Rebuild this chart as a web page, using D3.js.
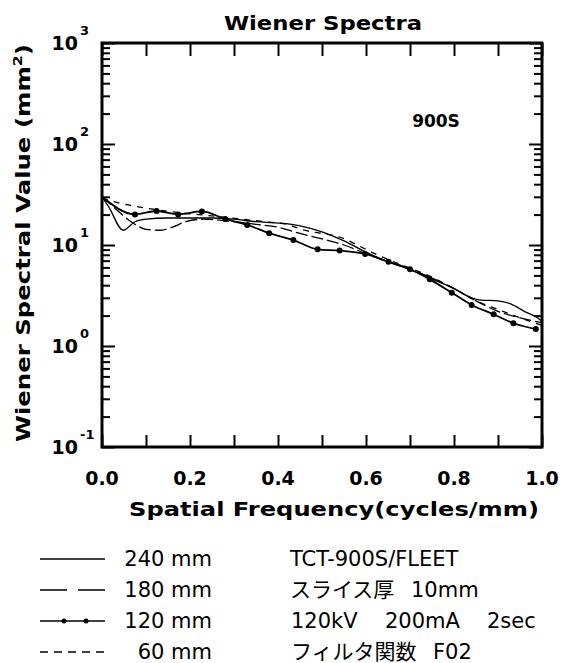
<!DOCTYPE html>
<html><head><meta charset="utf-8">
<script src="https://cdn.jsdelivr.net/npm/d3@7"></script>
<style>
html,body{margin:0;padding:0;background:#fff;}
svg{display:block;}
</style></head>
<body>
<script>
// ---- data ----
const xTicks = [0,0.1,0.2,0.3,0.4,0.5,0.6,0.7,0.8,0.9,1.0];
const xTickLabels = [0,0.2,0.4,0.6,0.8,1.0];
const yDecades = [0.1,1,10,100,1000];
const yDecadeExp = ["-1","0","1","2","3"];

const freq240 = [0,0.015,0.048,0.075,0.1,0.15,0.2,0.25,0.3,0.35,0.4,0.45,0.5,0.55,0.6,0.65,0.7,0.75,0.8,0.84,0.86,0.9,0.93,0.96,0.99,1.0];
const val240  = [30,24,14,17,18,18.5,18.5,18.5,18,17,16.5,15.5,13.5,11,8.5,6.8,5.7,4.6,3.7,3.0,2.85,2.8,2.6,2.2,1.9,1.75];

const freq180 = [0,0.03,0.07,0.1,0.13,0.16,0.19,0.23,0.3,0.35,0.4,0.45,0.5,0.55,0.6,0.65,0.7,0.75,0.8,0.85,0.9,0.95,1.0];
const val180  = [30,23,16.5,14.3,14.0,15.0,17.0,18.0,17.0,16.0,15.0,13.0,11.5,10.0,8.2,6.8,5.8,4.7,3.7,2.8,2.2,1.9,1.7];

const freq120 = [0,0.075,0.124,0.173,0.227,0.28,0.33,0.38,0.435,0.49,0.54,0.598,0.651,0.70,0.745,0.795,0.84,0.89,0.935,0.986];
const val120  = [30,20.1,21.7,20.1,21.5,18.1,15.8,13.1,11.2,9.06,8.8,8.15,6.84,5.75,4.57,3.37,2.55,2.06,1.68,1.47];

const freq60 = [0,0.04,0.08,0.12,0.17,0.22,0.27,0.32,0.37,0.42,0.46,0.5,0.54,0.58,0.62,0.66,0.7,0.75,0.8,0.85,0.9,0.95,1.0];
const val60  = [29,26,24,22.5,21,20,19,18,17,16,14,13,12,10,8.2,6.9,5.9,4.8,3.7,2.8,2.3,1.9,1.6];

const legendLabels = ["240 mm","180 mm","120 mm","60 mm"];
const infoParts = [
  ["TCT-900S/FLEET"],
  ["スライス厚","10mm"],
  ["120kV","200mA","2sec"],
  ["フィルタ関数","F02"]
];

// ---- chart ----
const W = 571, H = 663;
const L = 102, R = 542, T = 43, B = 447;
const svg = d3.select("body").append("svg").attr("width",W).attr("height",H);

const x = d3.scaleLinear().domain([0,1]).range([L,R]);
const y = d3.scaleLog().domain([0.1,1000]).range([B,T]);

const boldFont = "'DejaVu Sans', sans-serif";

const minorVals = [];
yDecades.slice(0,-1).forEach(d => { for (let k=2;k<=9;k++) minorVals.push(d*k); });

function styleAxis(g){
  g.select(".domain").remove();
  g.selectAll(".tick line").attr("stroke","#000").attr("stroke-width",2);
  g.selectAll(".tick text").remove();
}
svg.append("g").attr("transform",`translate(0,${B})`)
  .call(d3.axisBottom(x).tickValues(xTicks).tickSize(-12)).call(styleAxis);
svg.append("g").attr("transform",`translate(0,${T})`)
  .call(d3.axisTop(x).tickValues(xTicks).tickSize(-13)).call(styleAxis);
svg.append("g").attr("transform",`translate(${L},0)`)
  .call(d3.axisLeft(y).tickValues(yDecades).tickSize(-13)).call(styleAxis);
svg.append("g").attr("transform",`translate(${L},0)`)
  .call(d3.axisLeft(y).tickValues(minorVals).tickSize(-8)).call(styleAxis);
svg.append("g").attr("transform",`translate(${R},0)`)
  .call(d3.axisRight(y).tickValues(yDecades).tickSize(-13)).call(styleAxis);
svg.append("g").attr("transform",`translate(${R},0)`)
  .call(d3.axisRight(y).tickValues(minorVals).tickSize(-8)).call(styleAxis);

svg.append("rect").attr("x",L).attr("y",T).attr("width",R-L).attr("height",B-T)
  .attr("fill","none").attr("stroke","#000").attr("stroke-width",3);

// x tick labels
svg.append("g").selectAll("text").data(xTickLabels).join("text")
  .attr("x",d=>x(d)).attr("y",B+38)
  .attr("text-anchor","middle").attr("font-family",boldFont).attr("font-weight","bold")
  .attr("font-size",19).text(d=>d3.format(".1f")(d));

// y tick labels
const yl = svg.append("g");
yDecades.forEach((d,i)=>{
  yl.append("text").attr("x",78).attr("y",y(d)+7).attr("text-anchor","end")
    .attr("font-family",boldFont).attr("font-weight","bold").attr("font-size",19).text("10");
  yl.append("text").attr("x",80).attr("y",y(d)-8).attr("text-anchor","start")
    .attr("font-family",boldFont).attr("font-weight","bold").attr("font-size",13).text(yDecadeExp[i]);
});

// titles
svg.append("text").attr("x",323).attr("y",30).attr("text-anchor","middle")
  .attr("font-family",boldFont).attr("font-weight","bold").attr("font-size",20)
  .attr("textLength",198).attr("lengthAdjust","spacingAndGlyphs").text("Wiener Spectra");
svg.append("text").attr("x",334).attr("y",516).attr("text-anchor","middle")
  .attr("font-family",boldFont).attr("font-weight","bold").attr("font-size",20)
  .attr("textLength",410).attr("lengthAdjust","spacingAndGlyphs").text("Spatial Frequency(cycles/mm)");
const yt = svg.append("text").attr("transform","translate(30,243) rotate(-90)").attr("text-anchor","middle")
  .attr("font-family",boldFont).attr("font-weight","bold").attr("font-size",20)
  .attr("textLength",398).attr("lengthAdjust","spacingAndGlyphs");
yt.append("tspan").text("Wiener Spectral Value (mm");
yt.append("tspan").attr("font-size",13).attr("dy",-8).text("2");
yt.append("tspan").attr("dy",8).text(")");

svg.append("text").attr("x",436).attr("y",127).attr("text-anchor","middle")
  .attr("font-family",boldFont).attr("font-weight","bold").attr("font-size",17).text("900S");

// curves
const line = d3.line().x(d=>x(d[0])).y(d=>y(d[1])).curve(d3.curveMonotoneX);
const zip = (a,b)=>a.map((v,i)=>[v,b[i]]);
const series = [
  {data:zip(freq240,val240), dash:null, w:1.3},
  {data:zip(freq180,val180), dash:"12,4", w:1.3},
  {data:zip(freq60,val60), dash:"6,6", w:1.3},
  {data:zip(freq120,val120), dash:null, w:1.8}
];
const plot = svg.append("g");
series.forEach(s=>{
  plot.append("path").attr("d",line(s.data)).attr("fill","none").attr("stroke","#000")
    .attr("stroke-width",s.w).attr("stroke-dasharray",s.dash);
});
plot.selectAll("circle").data(zip(freq120,val120).slice(1)).join("circle")
  .attr("cx",d=>x(d[0])).attr("cy",d=>y(d[1])).attr("r",3).attr("fill","#000");

// legend
const rowsY = [559,590,621,652];
const lg = svg.append("g");
const lx0 = 40, lx1 = 105;
lg.append("line").attr("x1",lx0).attr("x2",lx1).attr("y1",rowsY[0]).attr("y2",rowsY[0]).attr("stroke","#000").attr("stroke-width",1.3);
lg.append("line").attr("x1",lx0).attr("x2",lx1).attr("y1",rowsY[1]).attr("y2",rowsY[1]).attr("stroke","#000").attr("stroke-width",1.3).attr("stroke-dasharray","27,11");
lg.append("line").attr("x1",lx0).attr("x2",lx1).attr("y1",rowsY[2]).attr("y2",rowsY[2]).attr("stroke","#000").attr("stroke-width",1.5);
[64,86].forEach(cx=>lg.append("circle").attr("cx",cx).attr("cy",rowsY[2]).attr("r",2.5).attr("fill","#000"));
lg.append("line").attr("x1",lx0).attr("x2",lx1).attr("y1",rowsY[3]).attr("y2",rowsY[3]).attr("stroke","#000").attr("stroke-width",1.3).attr("stroke-dasharray","8,6");

const regFont = "'DejaVu Sans','Noto Sans CJK JP',sans-serif";
legendLabels.forEach((t,i)=>{
  lg.append("text").attr("x",212).attr("y",rowsY[i]+7).attr("text-anchor","end")
    .attr("font-family",regFont).attr("font-size",21).text(t);
});
const partX = [[290],[290,411],[291,385,487],[291,433]];
infoParts.forEach((parts,i)=>{
  parts.forEach((t,j)=>{
    lg.append("text").attr("x",partX[i][j]).attr("y",rowsY[i]+7).attr("text-anchor","start")
      .attr("font-family",regFont).attr("font-size",21).text(t);
  });
});
</script>
</body></html>
